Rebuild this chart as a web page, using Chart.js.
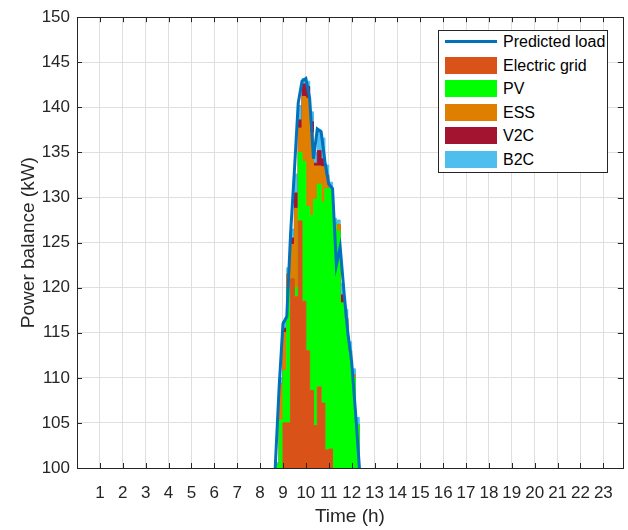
<!DOCTYPE html>
<html>
<head>
<meta charset="utf-8">
<title>Power balance</title>
<script src="https://cdn.jsdelivr.net/npm/chart.js@4.4.0/dist/chart.umd.min.js"></script>
<style>
  body { margin: 0; background: #fff; }
  #wrap { position: relative; width: 628px; height: 530px; }
  #legend {
    position: absolute; left: 438px; top: 30px; width: 168px; height: 141px;
    border: 1px solid #262626; background: #fff;
    font-family: "Liberation Sans", Arial, Helvetica, sans-serif; font-size: 16px; color: #000;
  }
  .item { position: absolute; left: 6px; height: 18px; width: 160px; }
  .item .swatch { position: absolute; left: 0; width: 52px; }
  .item .label { position: absolute; left: 58px; top: 0; line-height: 18px; white-space: nowrap; }
</style>
</head>
<body>
<div id="wrap">
  <canvas id="balanceChart" width="628" height="530"></canvas>
  <div id="legend"></div>
</div>
<script>
// time steps (h), 10 min resolution around the midday peak
const hours = [8.5, 8.667, 8.833, 9.0, 9.167, 9.333, 9.5, 9.667, 9.833, 10.0, 10.167, 10.333,
  10.5, 10.667, 10.833, 11.0, 11.167, 11.333, 11.5, 11.667, 11.833, 12.0, 12.167, 12.333, 12.5];

const predictedLoad = [92, 100.3, 109, 116, 116.8, 126, 133, 140.5, 142.9, 143.2, 141, 134.3,
  137.6, 137.3, 134, 131.5, 131, 122.5, 124.5, 119.5, 115, 111.8, 106.3, 100.3, 93];

// supply share of each source (kW), stacked in this order
const electricGrid = [70, 82, 96, 105, 105, 121, 119, 127.4, 118.5, 113, 108.6, 104.7,
  109, 107.2, 102, 102.1, 98, 97, 96, 95, 94, 93, 92, 88, 85];
const pv = [18, 18.3, 9.3, 5.8, 14.9, 0, 1, 7.6, 15.5, 16, 19.4, 25.1,
  22.5, 22.3, 29, 28.9, 29.2, 29.3, 22.3, 21.6, 19, 17, 12.8, 7, 6];
const ess = [2, 0, 4, 4.2, 1.6, 3.8, 8.8, 2.7, 7.2, 12, 9.2, 3.7,
  2, 3.9, 1.5, 0, 0, 0.7, 0, 0, 0, 0.3, 0, 0, 0];
const v2c = [1, 0, 0, 0.5, 0, 0.7, 1.7, 0.9, 1.4, 1.3, 1.2, 0.3,
  1.7, 0.9, 0, 0, 0, 0, 0.9, 0, 0, 0, 0, 0, 0];
const b2c = [1, 0.3, 0.7, 0.8, 0.7, 1.0, 2.1, 1.6, 0.6, 0.6, 1.1, 1.2,
  2.3, 2.3, 1.1, 0.7, 0.5, 0.5, 1.3, 1, 1, 0.7, 0.8, 0.5, 0.5];

const xTicks = [1, 2, 3, 4, 5, 6, 7, 8, 9, 10, 11, 12, 13, 14, 15, 16, 17, 18, 19, 20, 21, 22, 23];
const yTicks = [100, 105, 110, 115, 120, 125, 130, 135, 140, 145, 150];

const FONT = '"Liberation Sans", Arial, Helvetica, sans-serif';
const AXIS = '#262626';

const points = arr => hours.map((h, i) => ({ x: h, y: arr[i] }));

// one stacked stair area; the thin border in the same colour hides seams between layers
function source(label, arr, color, fill) {
  return {
    label: label,
    data: points(arr),
    stack: 'supply',
    stepped: true,
    fill: fill,
    backgroundColor: color,
    borderColor: color,
    borderWidth: 1,
    pointRadius: 0,
    clip: 0
  };
}

// axes box and inward tick marks, like a matlab figure
const axesBox = {
  id: 'axesBox',
  afterDatasetsDraw(chart) {
    const { ctx, chartArea: a, scales } = chart;
    ctx.save();
    ctx.strokeStyle = AXIS;
    ctx.lineWidth = 1;
    ctx.beginPath();
    xTicks.forEach(v => {
      const px = Math.round(scales.x.getPixelForValue(v)) + 0.5;
      ctx.moveTo(px, a.bottom); ctx.lineTo(px, a.bottom - 5);
      ctx.moveTo(px, a.top); ctx.lineTo(px, a.top + 5);
    });
    yTicks.forEach(v => {
      const py = Math.round(scales.y.getPixelForValue(v)) + 0.5;
      ctx.moveTo(a.left, py); ctx.lineTo(a.left + 5, py);
      ctx.moveTo(a.right, py); ctx.lineTo(a.right - 5, py);
    });
    ctx.stroke();
    ctx.strokeRect(Math.round(a.left) + 0.5, Math.round(a.top) + 0.5,
      Math.round(a.right - a.left), Math.round(a.bottom - a.top));
    ctx.restore();
  }
};

const ctx = document.getElementById('balanceChart').getContext('2d');
const balanceChart = new Chart(ctx, {
  type: 'line',
  data: {
    datasets: [
      {
        label: 'Predicted load',
        data: points(predictedLoad),
        stack: 'load',
        fill: false,
        borderColor: '#0072BD',
        borderWidth: 3,
        pointRadius: 0,
        clip: 0
      },
      source('Electric grid', electricGrid, '#D95319', 'origin'),
      source('PV', pv, '#00FF00', '-1'),
      source('ESS', ess, '#E07E00', '-1'),
      source('V2C', v2c, '#A2142F', '-1'),
      source('B2C', b2c, '#4DBEEE', '-1')
    ]
  },
  options: {
    responsive: false,
    animation: false,
    devicePixelRatio: 1,
    layout: { padding: { top: 15, right: 5, left: 0, bottom: 0 } },
    plugins: {
      legend: { display: false },
      tooltip: { enabled: false }
    },
    scales: {
      x: {
        type: 'linear',
        min: 0,
        max: 23.85,
        afterBuildTicks: axis => { axis.ticks = xTicks.map(v => ({ value: v })); },
        afterFit: axis => { axis.height = 62; },
        ticks: { includeBounds: false, autoSkip: false, maxRotation: 0, padding: 15,
          color: AXIS, font: { family: FONT, size: 17 } },
        grid: { color: '#dfdfdf', drawTicks: false },
        border: { color: AXIS, width: 1 },
        title: { display: true, text: 'Time (h)', color: AXIS,
          font: { family: FONT, size: 19 }, padding: { top: 0, bottom: 2 } }
      },
      y: {
        stacked: true,
        min: 100,
        max: 150,
        afterBuildTicks: axis => { axis.ticks = yTicks.map(v => ({ value: v })); },
        afterFit: axis => { axis.width = 77; },
        ticks: { padding: 7, color: AXIS, font: { family: FONT, size: 17 } },
        grid: { color: '#dfdfdf', drawTicks: false },
        border: { color: AXIS, width: 1 },
        title: { display: true, text: 'Power balance (kW)', color: AXIS,
          font: { family: FONT, size: 19 }, padding: { top: 17, bottom: 0 } }
      }
    }
  },
  plugins: [axesBox]
});

// legend inside the axes, top right
const legend = document.getElementById('legend');
balanceChart.data.datasets.forEach((ds, i) => {
  const item = document.createElement('div');
  item.className = 'item';
  item.style.top = (2 + i * 23.6) + 'px';
  const sw = document.createElement('div');
  sw.className = 'swatch';
  if (ds.fill === false) {
    sw.style.top = '7px';
    sw.style.height = '3px';
    sw.style.background = ds.borderColor;
  } else {
    sw.style.top = '0px';
    sw.style.height = '17px';
    sw.style.background = ds.backgroundColor;
  }
  const label = document.createElement('span');
  label.className = 'label';
  label.textContent = ds.label;
  item.appendChild(sw);
  item.appendChild(label);
  legend.appendChild(item);
});
</script>
</body>
</html>
